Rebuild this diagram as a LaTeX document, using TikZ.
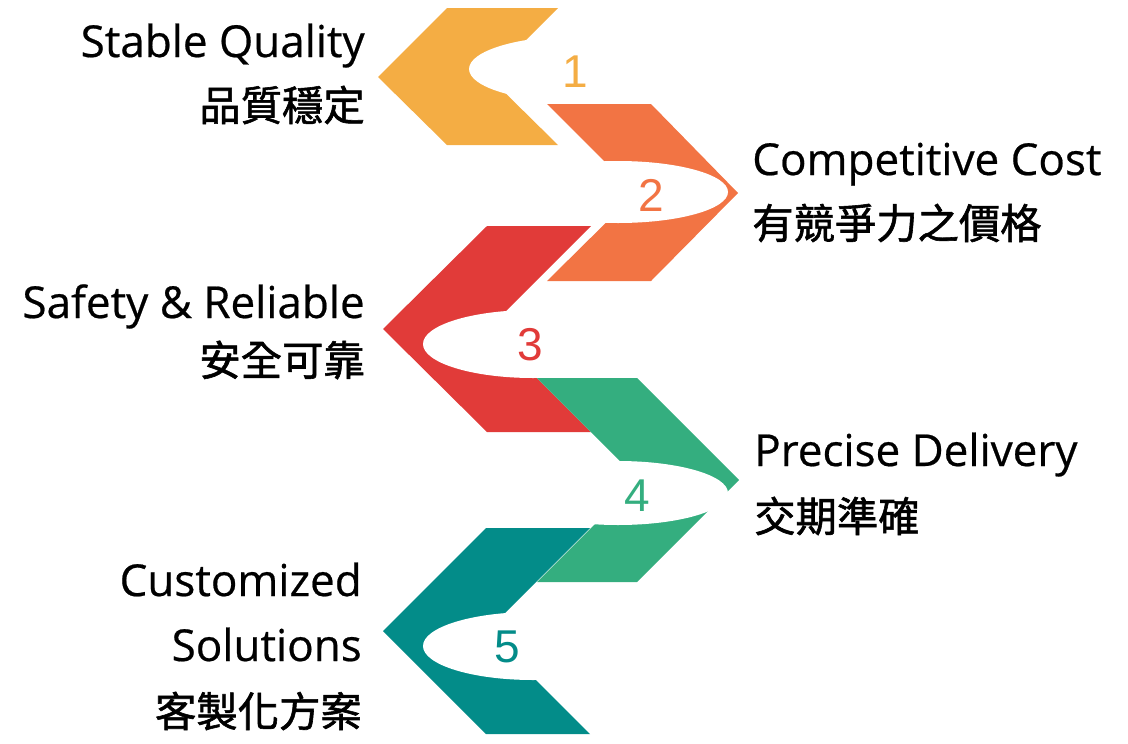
\documentclass[tikz,border=0pt]{standalone}
\usepackage{fontspec}
\setmainfont[AutoFakeBold=0.5]{Open Sans}
\newfontfamily\cjk[AutoFakeBold=1.4]{Noto Sans CJK TC}
\newfontfamily\numfont{Liberation Sans}
\usepackage{tikz}
\usetikzlibrary{positioning}

\definecolor{cYellow}{RGB}{244,173,68}
\definecolor{cOrange}{RGB}{242,116,68}
\definecolor{cRed}{RGB}{225,59,57}
\definecolor{cGreen}{RGB}{52,174,127}
\definecolor{cTeal}{RGB}{3,140,137}

\begin{document}
\begin{tikzpicture}[x=0.75pt,y=-0.75pt,
  en/.style={inner sep=0,font=\bfseries\fontsize{33}{36}\selectfont},
  zh/.style={inner sep=0,font=\cjk\bfseries\fontsize{31}{34}\selectfont},
  num/.style={inner sep=0,font=\numfont\fontsize{34.5}{36}\selectfont},
  hole/.style={fill=white}]

\useasboundingbox (0,0) rectangle (1128,743);

% chevrons
\fill[cYellow] (378,77) -- (447,8) -- (558,8) -- (489,77) -- (558,145) -- (447,145) -- cycle;
\fill[cOrange] (547,104) -- (651,104) -- (738,193) -- (651,281) -- (547,281) -- (636,193) -- cycle;
\fill[cRed] (383,329) -- (487,226) -- (591,226) -- (488,329) -- (591,432) -- (487,432) -- cycle;
\fill[cTeal] (383,631) -- (486,528) -- (590,528) -- (487,631) -- (590,734) -- (486,734) -- cycle;
\fill[cGreen] (537,378) -- (637,378) -- (739,480) -- (637,582) -- (537,582) -- (639,480) -- cycle;

% holes
\fill[hole] (579,69) ellipse [x radius=82.5pt,y radius=24.75pt];
\fill[hole] (618,192) ellipse [x radius=82.5pt,y radius=23.25pt];
\fill[hole] (533,344) ellipse [x radius=82.5pt,y radius=25.5pt];
\fill[hole] (618,493) ellipse [x radius=82.5pt,y radius=24pt];
\fill[hole] (533,646) ellipse [x radius=82.5pt,y radius=25.5pt];

% numbers
\node (One) at (575,72) [num,text=cYellow] {1};
\node (Two) at (651,195) [num,text=cOrange] {2};
\node (Three) at (530,345) [num,text=cRed] {3};
\node (Four) at (637,496) [num,text=cGreen] {4};
\node (Five) at (507,647) [num,text=cTeal] {5};

% labels
\node (Quality) at (365,57) [en,anchor=base east] {Stable Quality};
\node (QualityZh) at (365,105) [zh,anchor=east] {品質穩定};

\node (Cost) at (752,175) [en,anchor=base west] {Competitive Cost};
\node (CostZh) at (752,223) [zh,anchor=west] {有競爭力之價格};

\node (Safety) at (365,318) [en,anchor=base east] {Safety \& Reliable};
\node (SafetyZh) at (365,360) [zh,anchor=east] {安全可靠};

\node (Delivery) at (754,466) [en,anchor=base west] {Precise Delivery};
\node (DeliveryZh) at (754,516) [zh,anchor=west] {交期準確};

\node (Custom) at (362,596) [en,anchor=base east] {Customized};
\node (Solutions) at (362,661) [en,anchor=base east] {Solutions};
\node (CustomZh) at (362,711) [zh,anchor=east] {客製化方案};

\end{tikzpicture}
\end{document}
